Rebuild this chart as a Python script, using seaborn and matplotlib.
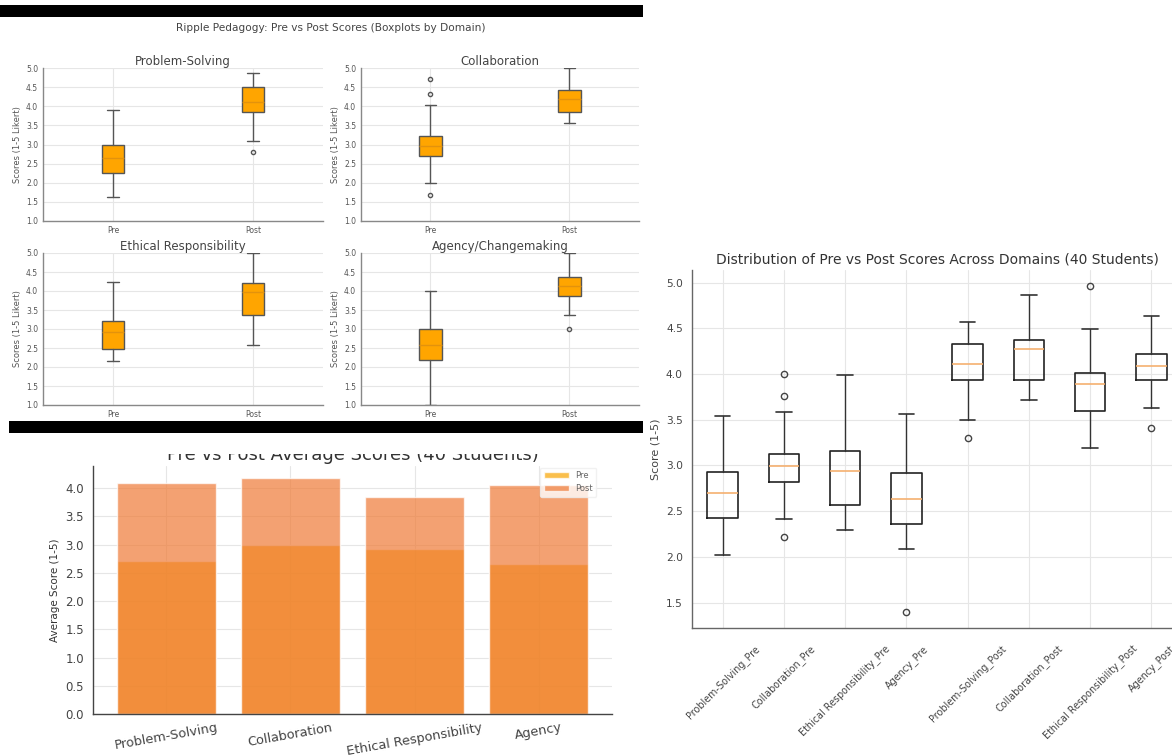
"""  Ripple Pedagogy collage: 2x2 domain boxplots, average bars, pre/post distribution  """

import matplotlib
matplotlib.use('Agg')
import matplotlib.pyplot as plt
from matplotlib.patches import Rectangle
import numpy as np
import seaborn as sns


# ~~~~~~~~~~   Data   ~~~~~~~~~~~~~~~~~~~~~~~~~~~~~~~~~~~~~~~~~~~~~~~~~~~~~~~~~~~~~~~~~~~ #
domains = ['Problem-Solving', 'Collaboration', 'Ethical Responsibility', 'Agency']
panel_titles = ['Problem-Solving', 'Collaboration', 'Ethical Responsibility', 'Agency/Changemaking']
phases = ['Pre', 'Post']

# [low whisker, q1, median, q3, high whisker] for the 2x2 panel
grid_pre = [[1.63, 2.25, 2.65, 2.98, 3.89],
            [2.00, 2.70, 2.97, 3.23, 4.02],
            [2.15, 2.48, 2.92, 3.22, 4.25],
            [1.00, 2.19, 2.59, 3.01, 3.99]]
grid_post = [[3.10, 3.85, 4.12, 4.50, 4.87],
             [3.56, 3.84, 4.20, 4.42, 5.00],
             [2.58, 3.38, 3.97, 4.20, 5.00],
             [3.36, 3.87, 4.12, 4.37, 5.00]]
grid_pre_fliers = [[], [4.72, 4.33, 1.67], [], []]
grid_post_fliers = [[2.80], [], [], [3.00]]

# averages for the bar chart
pre_avg = [2.71, 3.00, 2.92, 2.66]
post_avg = [4.09, 4.18, 3.85, 4.06]

# distribution panel (8 boxes)
dist_labels = ['Problem-Solving_Pre', 'Collaboration_Pre', 'Ethical Responsibility_Pre', 'Agency_Pre',
               'Problem-Solving_Post', 'Collaboration_Post', 'Ethical Responsibility_Post', 'Agency_Post']
dist_summary = [[2.02, 2.42, 2.70, 2.93, 3.54],
                [2.41, 2.82, 2.99, 3.13, 3.59],
                [2.29, 2.57, 2.94, 3.16, 3.99],
                [2.09, 2.36, 2.63, 2.92, 3.56],
                [3.50, 3.94, 4.11, 4.33, 4.57],
                [3.72, 3.93, 4.27, 4.37, 4.86],
                [3.19, 3.60, 3.89, 4.01, 4.49],
                [3.63, 3.93, 4.09, 4.22, 4.64]]
dist_fliers = [[], [4.00, 3.76, 2.22], [], [1.40], [3.30], [], [4.96], [3.41]]


# ~~~~~~~~~~   Helpers   ~~~~~~~~~~~~~~~~~~~~~~~~~~~~~~~~~~~~~~~~~~~~~~~~~~~~~~~~~~~~~~~~ #
W, H = 1172, 756


def rect(x0, y0, x1, y1):
    # pixel box (top-left origin) -> figure fraction [left, bottom, width, height]
    return [x0 / W, 1 - y1 / H, (x1 - x0) / W, (y1 - y0) / H]


def stats(summary, fliers, label):
    lo, q1, med, q3, hi = summary
    return dict(whislo=lo, q1=q1, med=med, q3=q3, whishi=hi, fliers=fliers, label=label)


def style_axes(ax, spine_color):
    for side in ['top', 'right']:
        ax.spines[side].set_visible(False)
    for side in ['left', 'bottom']:
        ax.spines[side].set_color(spine_color)
        ax.spines[side].set_linewidth(1.0)
    ax.grid(True, color='#e6e6e6', linewidth=0.8)
    ax.set_axisbelow(True)


sns.set_style('whitegrid')
plt.rcParams['font.family'] = ['DejaVu Sans']

fig = plt.figure(figsize=(W / 100, H / 100), dpi=100)

# ~~~~~~~~~~   Panel 1: 2x2 boxplots by domain   ~~~~~~~~~~~~~~~~~~~~~~~~~~~~~~~~~~~~~~~~~ #
fig.text(331 / W, 1 - 28 / H, 'Ripple Pedagogy: Pre vs Post Scores (Boxplots by Domain)',
         ha='center', va='center', fontsize=7.6, color='#444')

col_x = [(43, 323), (361, 639)]
row_y = [(68, 221), (253, 405)]
for i in range(4):
    x0, x1 = col_x[i % 2]
    y0, y1 = row_y[i // 2]
    ax = fig.add_axes(rect(x0, y0, x1, y1))
    style_axes(ax, '#888')
    ax.bxp([stats(grid_pre[i], grid_pre_fliers[i], 'Pre'),
            stats(grid_post[i], grid_post_fliers[i], 'Post')],
           positions=[1, 2], widths=0.16, patch_artist=True,
           boxprops=dict(facecolor='#FFA500', edgecolor='#555', linewidth=1.0),
           medianprops=dict(color='#E3920C', linewidth=1.0),
           whiskerprops=dict(color='#555', linewidth=1.0),
           capprops=dict(color='#555', linewidth=1.0),
           flierprops=dict(marker='o', markerfacecolor='none', markeredgecolor='#555', markersize=3))
    ax.set_xlim(0.5, 2.5)
    ax.set_ylim(1, 5)
    ax.set_yticks(np.arange(1, 5.01, 0.5))
    ax.set_xticks([1, 2], phases)
    ax.tick_params(labelsize=5.5, colors='#555', length=2, pad=1.5)
    ax.set_ylabel('Scores (1-5 Likert)', fontsize=6, color='#555', labelpad=3)
    ax.set_title(panel_titles[i], fontsize=8.5, color='#444', pad=2)

# ~~~~~~~~~~   Panel 2: average bars   ~~~~~~~~~~~~~~~~~~~~~~~~~~~~~~~~~~~~~~~~~~~~~~~~~~ #
ax_bar = fig.add_axes(rect(93, 466, 612, 714))
sns.barplot(x=domains, y=pre_avg, color='#F8A400', alpha=0.7, saturation=1,
            errorbar=None, width=0.8, label='Pre', ax=ax_bar)
sns.barplot(x=domains, y=post_avg, color='#EF7A36', alpha=0.7, saturation=1,
            errorbar=None, width=0.8, label='Post', ax=ax_bar)
style_axes(ax_bar, '#444')
ax_bar.set_xlim(-0.59, 3.59)
ax_bar.set_ylim(0, 4.39)
ax_bar.set_yticks(np.arange(0, 4.01, 0.5))
ax_bar.tick_params(axis='y', labelsize=8.5, colors='#444', length=3)
ax_bar.tick_params(axis='x', labelsize=9.3, colors='#444', direction='in', length=3, pad=5)
plt.setp(ax_bar.get_xticklabels(), rotation=10)
ax_bar.set_ylabel('Average Score (1-5)', fontsize=7.5, color='#333')
ax_bar.set_title('Pre vs Post Average Scores (40 Students)', fontsize=13, color='#333', pad=4)
leg = ax_bar.legend(loc='upper right', bbox_to_anchor=(1 - 14 / 519, 1.0), fontsize=6,
                    frameon=True, borderaxespad=0.2, handlelength=3, labelcolor='#666')
leg.get_frame().set_edgecolor('#eeeeee')

# ~~~~~~~~~~   Panel 3: distribution across domains   ~~~~~~~~~~~~~~~~~~~~~~~~~~~~~~~~~~~ #
ax_d = fig.add_axes(rect(692, 270, 1182, 628))
style_axes(ax_d, '#666')
ax_d.bxp([stats(s, f, l) for s, f, l in zip(dist_summary, dist_fliers, dist_labels)],
         positions=range(1, 9), widths=0.5,
         boxprops=dict(color='#222', linewidth=1.2),
         medianprops=dict(color='#F5B070', linewidth=1.2),
         whiskerprops=dict(color='#333', linewidth=1.0),
         capprops=dict(color='#333', linewidth=1.2),
         flierprops=dict(marker='o', markerfacecolor='none', markeredgecolor='#444', markersize=4.5))
ax_d.set_xlim(0.5, 8.5)
ax_d.set_ylim(1.222, 5.138)
ax_d.set_yticks([1.5, 2.0, 2.5, 3.0, 3.5, 4.0, 4.5, 5.0])
ax_d.set_xticks(range(1, 9), dist_labels, rotation=45)
ax_d.tick_params(axis='y', labelsize=7.7, colors='#444', length=3)
ax_d.tick_params(axis='x', labelsize=6.9, colors='#444', direction='in', length=3, pad=11)
ax_d.set_ylabel('Score (1-5)', fontsize=8, color='#444')
ax_d.set_title('Distribution of Pre vs Post Scores Across Domains (40 Students)',
               fontsize=10, color='#333', pad=5)

# ~~~~~~~~~~   Collage strips   ~~~~~~~~~~~~~~~~~~~~~~~~~~~~~~~~~~~~~~~~~~~~~~~~~~~~~~~~~ #
for (x0, y0, x1, y1, c) in [(0, 5, 643, 17, 'black'), (9, 421, 643, 433, 'black'),
                            (0, 433, 643, 454, 'white')]:
    fig.patches.append(Rectangle((x0 / W, 1 - y1 / H), (x1 - x0) / W, (y1 - y0) / H,
                                 transform=fig.transFigure, facecolor=c, edgecolor='none',
                                 zorder=10))

fig.savefig('out.png', dpi=100)
